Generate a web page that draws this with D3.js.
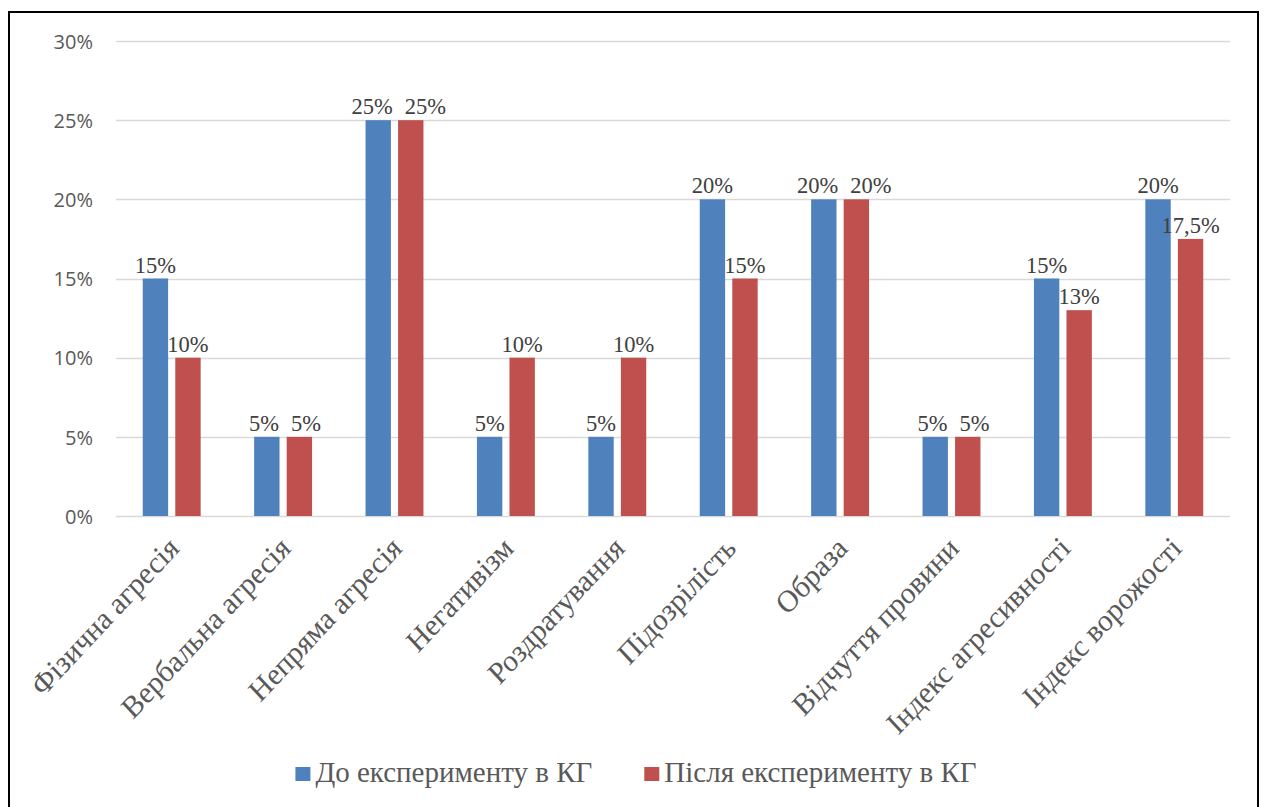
<!DOCTYPE html>
<html>
<head>
<meta charset="utf-8">
<script src="https://cdn.jsdelivr.net/npm/d3@7"></script>
<style>
  html, body { margin: 0; padding: 0; background: #fff; }
  svg { display: block; }
</style>
</head>
<body>
<svg id="chart" width="1264" height="807"></svg>
<script>
// Категорії шкал агресії та ворожості
const categories = [
  "Фізична агресія", "Вербальна агресія", "Непряма агресія", "Негативізм",
  "Роздратування", "Підозрілість", "Образа", "Відчуття провини",
  "Індекс агресивності", "Індекс ворожості"
];
const seriesNames = ["До експерименту в КГ", "Після експерименту в КГ"];
// Відсотки для кожної шкали
const beforeValues = [15, 5, 25, 5, 5, 20, 20, 5, 15, 20];
const afterValues  = [10, 5, 25, 10, 10, 15, 20, 5, 13, 17.5];
const yTicks = [0, 5, 10, 15, 20, 25, 30];

const colors = ["#4F81BD", "#C0504D"];
const serif = "'Liberation Serif', 'Times New Roman', serif";

const svg = d3.select("#chart");
const W = 1264, H = 807;

// Chart frame
svg.append("rect")
  .attr("x", 9).attr("y", 12)
  .attr("width", 1249).attr("height", H + 10)
  .attr("fill", "#fff").attr("stroke", "#000").attr("stroke-width", 2);

const plot = { left: 116, right: 1230, top: 41, bottom: 516 };

const y = d3.scaleLinear().domain([0, 30]).range([plot.bottom, plot.top]);
const x0 = d3.scaleBand().domain(categories)
  .range([plot.left, plot.right]).paddingInner(0.48).paddingOuter(0.24);
const x1 = d3.scaleBand().domain([0, 1])
  .range([0, x0.bandwidth()]).paddingInner(0.22).paddingOuter(0);

// Gridlines
svg.append("g").selectAll("line").data(yTicks).join("line")
  .attr("x1", plot.left).attr("x2", plot.right)
  .attr("y1", d => Math.round(y(d)) + 0.5).attr("y2", d => Math.round(y(d)) + 0.5)
  .attr("stroke", "#D9D9D9").attr("stroke-width", 1.5);

// Y axis labels
const yAxis = d3.axisLeft(y).tickValues(yTicks).tickFormat(d => d + "%").tickSize(0).tickPadding(0);
const yg = svg.append("g").attr("transform", `translate(93,0)`).call(yAxis);
yg.select(".domain").remove();
yg.selectAll("text")
  .attr("font-family", "'Open Sans', sans-serif")
  .attr("font-size", 20)
  .attr("fill", "#595959")
  .attr("dy", "0.36em");

// Bars
const rows = categories.map((c, i) => ({ cat: c, vals: [beforeValues[i], afterValues[i]] }));
const fmt = v => String(v).replace(".", ",") + "%";

const groups = svg.append("g").selectAll("g").data(rows).join("g")
  .attr("transform", d => `translate(${x0(d.cat)},0)`);

groups.selectAll("rect").data(d => d.vals.map((v, k) => ({ v, k }))).join("rect")
  .attr("x", d => x1(d.k))
  .attr("width", x1.bandwidth())
  .attr("y", d => y(d.v))
  .attr("height", d => y(0) - y(d.v))
  .attr("fill", d => colors[d.k]);

// Value labels above each bar
const labelSize = 22.5;
groups.each(function (row) {
  const g = d3.select(this);
  const labels = row.vals.map((v, k) => g.append("text")
    .attr("x", x1(k) + x1.bandwidth() / 2)
    .attr("y", y(v) - 6)
    .attr("text-anchor", "middle")
    .attr("font-family", serif)
    .attr("font-size", labelSize)
    .attr("fill", "#404040")
    .text(fmt(v)));
  // Push apart the pair of labels when they sit at the same height and collide
  if (Math.abs(y(row.vals[0]) - y(row.vals[1])) < labelSize) {
    const a = labels[0].node().getBBox();
    const b = labels[1].node().getBBox();
    const need = (a.x + a.width + 12) - b.x;
    if (need > 0) {
      labels[0].attr("x", +labels[0].attr("x") - need * 0.3);
      labels[1].attr("x", +labels[1].attr("x") + need * 0.7);
    }
  }
});

// Category labels, rotated
svg.append("g").selectAll("text").data(categories).join("text")
  .attr("transform", d => `translate(${x0(d) + x0.bandwidth() / 2 + 9},${plot.bottom + 34}) scale(1,1.07) rotate(-45)`)
  .attr("text-anchor", "end")
  .attr("font-family", serif)
  .attr("font-size", 29)
  .attr("fill", "#595959")
  .text(d => d);

// Legend, centred under the chart
const legend = svg.append("g");
const items = legend.selectAll("g").data(seriesNames).join("g");
items.append("rect").attr("y", 767).attr("width", 15).attr("height", 14)
  .attr("fill", (d, i) => colors[i]);
items.append("text")
  .attr("x", 20).attr("y", 782)
  .attr("font-family", serif)
  .attr("font-size", 29)
  .attr("fill", "#595959")
  .text(d => d);
const itemGap = 52;
const widths = items.nodes().map(n => n.getBBox().width);
const total = d3.sum(widths) + itemGap * (widths.length - 1);
let cursor = 636 - total / 2;
items.each(function (d, i) {
  d3.select(this).attr("transform", `translate(${cursor},0)`);
  cursor += widths[i] + itemGap;
});
</script>
</body>
</html>
